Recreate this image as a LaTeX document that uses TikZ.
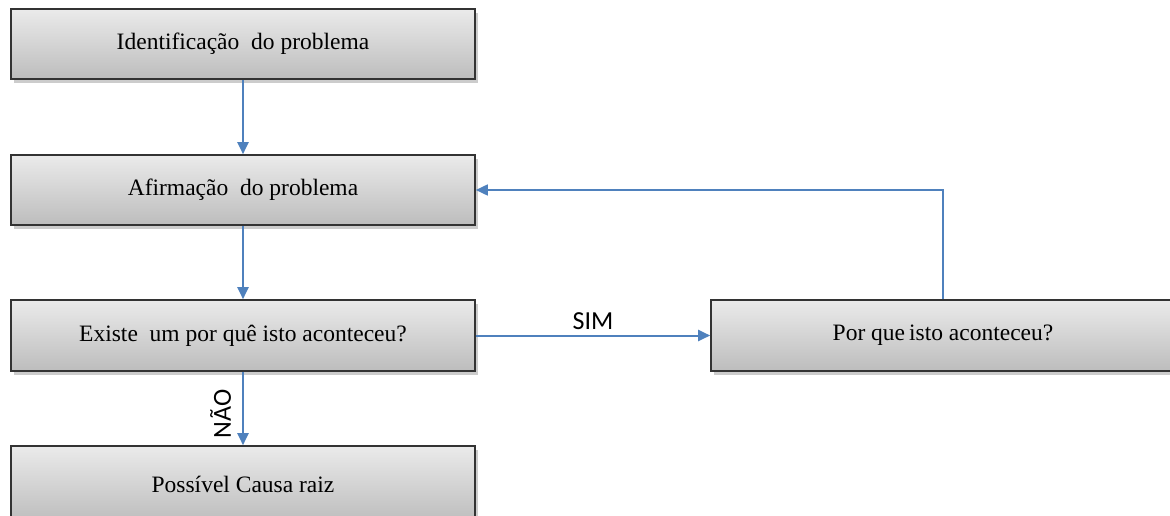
\documentclass[tikz,border=0pt]{standalone}
\usepackage{fontspec}
\setmainfont{Liberation Serif}
\newfontfamily\calibri{Carlito}
\usetikzlibrary{arrows.meta,shadows}
\definecolor{arrowblue}{HTML}{4F81BD}
\tikzset{
  stepbox/.style={draw=black!80, line width=1.6pt, top color=black!8, bottom color=black!26,
    minimum width=464pt, minimum height=70pt, inner sep=0pt,
    font=\fontsize{23.5}{27}\selectfont,
    drop shadow={shadow xshift=3pt, shadow yshift=-4pt, fill=black, opacity=0.2}},
  conn/.style={draw=arrowblue, line width=2pt, -{Triangle[length=12pt,width=11pt]}},
  lbl/.style={font=\calibri\fontsize{26}{30}\selectfont, inner sep=2pt}
}
\begin{document}
\begin{tikzpicture}[x=1pt,y=-1pt]
\useasboundingbox (0,0) rectangle (1170,516);
\clip (0,0) rectangle (1170,516);
\node[stepbox] (b1) at (243,44) {Identificação\ \ do problema};
\node[stepbox] (b2) at (243,190) {Afirmação\ \ do problema};
\node[stepbox, minimum height=71pt] (b3) at (243,335.5) {Existe\ \ um por quê isto aconteceu?};
\node[stepbox, minimum height=76pt] (b4) at (243,484) {Possível Causa raiz};
\node[stepbox, minimum height=71pt] (b5) at (943,335.5) {Por que\,isto aconteceu?};
\draw[conn] (b1.south) -- (b2.north);
\draw[conn] (b2.south) -- (b3.north);
\draw[conn] (b3.south) -- node[lbl, pos=0.57, rotate=90, anchor=south, inner xsep=2pt, inner ysep=11pt] (nao) {NÃO} (b4.north);
\draw[conn] (b3.east) -- node[lbl, midway, above=3pt] (sim) {SIM} (b5.west);
\draw[conn, line width=1.7pt] (b5.north) |- (b2.east);
\end{tikzpicture}
\end{document}
